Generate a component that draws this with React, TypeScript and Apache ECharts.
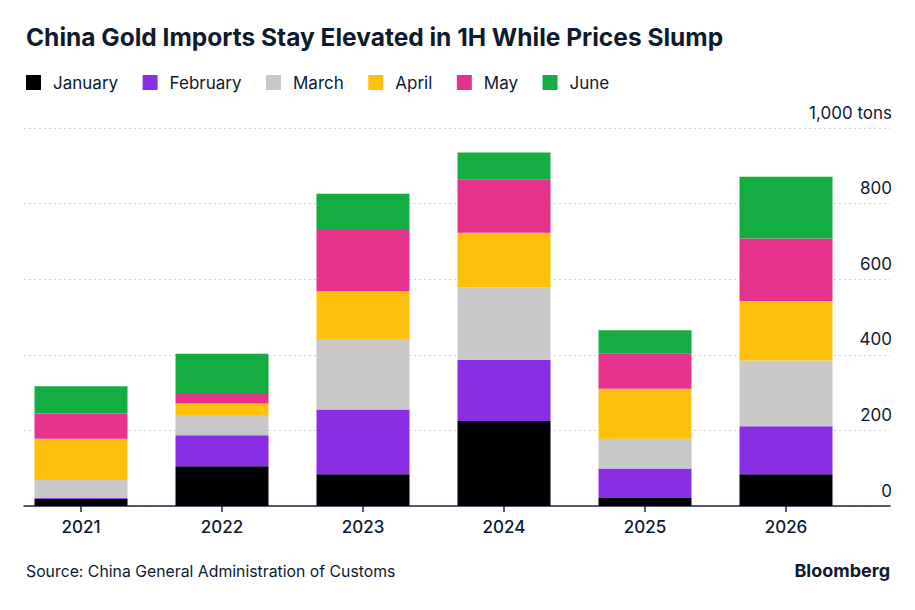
import { useEffect, useRef } from 'react'
import * as echarts from 'echarts'

// ── Data (thousand-ton stacked values) ───────────────────────────────────────

const years = ['2021', '2022', '2023', '2024', '2025', '2026']
const months = ['January', 'February', 'March', 'April', 'May', 'June']

const january = [19, 105, 84, 225, 21, 84]
const february = [2, 82, 171, 162, 78, 127]
const march = [48, 54, 187, 191, 79, 174]
const april = [109, 30, 126, 145, 132, 157]
const may = [67, 25, 165, 140, 93, 166]
const june = [72, 107, 93, 72, 62, 163]

const yTicks = [0, 200, 400, 600, 800, 1000]

const colors = ['#000000', '#8a2ee6', '#c8c8c8', '#fdc10d', '#e5338b', '#13ad42']

const INK = '#0e1a2e'
const FONT = 'Inter, "Noto Sans", sans-serif'

export default function App() {
  const ref = useRef<HTMLDivElement>(null)

  useEffect(() => {
    document.body.style.margin = '0'
    if (!ref.current) return
    const chart = echarts.init(ref.current, null, { renderer: 'svg' })

    const values = [january, february, march, april, may, june]

    chart.setOption({
      animation: false,
      backgroundColor: '#ffffff',
      textStyle: { fontFamily: FONT, color: INK },
      title: [
        {
          text: 'China Gold Imports Stay Elevated in 1H While Prices Slump',
          left: 26,
          top: 24,
          padding: 0,
          textStyle: { fontFamily: FONT, fontSize: 24.5, fontWeight: 'bold', color: INK },
        },
        {
          text: 'Source: China General Administration of Customs',
          left: 26,
          top: 563,
          padding: 0,
          textStyle: { fontFamily: FONT, fontSize: 15.8, fontWeight: 'normal', color: INK },
        },
        {
          text: 'Bloomberg',
          right: 25,
          top: 561,
          padding: 0,
          textStyle: { fontFamily: FONT, fontSize: 18, fontWeight: 'bold', color: INK },
        },
      ],
      legend: {
        left: 26,
        top: 74,
        padding: 0,
        itemWidth: 15,
        itemHeight: 15,
        itemGap: 24.5,
        icon: 'rect',
        data: months,
        textStyle: { fontFamily: FONT, fontSize: 17, color: INK, padding: [0, 0, 0, 7] },
      },
      grid: [
        { left: 24, right: 25, top: 128, bottom: 104 },
        { left: 10.5, right: 58.5, top: 128, bottom: 104 },
      ],
      xAxis: [
        {
          type: 'value',
          gridIndex: 0,
          min: 0,
          max: 1,
          axisLine: { show: true, lineStyle: { color: '#1b2440', width: 1.5 } },
          axisTick: { show: false },
          axisLabel: { show: false },
          splitLine: { show: false },
        },
        {
          type: 'category',
          gridIndex: 1,
          data: years,
          axisLine: { show: false },
          axisTick: {
            show: true,
            alignWithLabel: true,
            length: 6,
            lineStyle: { color: '#1b2440', width: 1.5 },
          },
          axisLabel: { fontFamily: FONT, fontSize: 17, fontWeight: 500, color: INK, margin: 12 },
        },
      ],
      yAxis: [
        {
          type: 'value',
          gridIndex: 0,
          position: 'right',
          min: yTicks[0],
          max: yTicks[yTicks.length - 1],
          interval: 200,
          axisLine: { show: false },
          axisTick: { show: false },
          axisLabel: {
            inside: true,
            margin: -2,
            verticalAlign: 'bottom',
            padding: [0, 0, 7, 0],
            fontFamily: FONT,
            fontSize: 17,
            color: INK,
            formatter: (v: number) => (v === 1000 ? '1,000 tons' : String(v)),
          },
          splitLine: {
            show: true,
            lineStyle: { color: '#d4d4d4', type: [2, 3], width: 1 },
          },
        },
        {
          type: 'value',
          gridIndex: 1,
          min: yTicks[0],
          max: yTicks[yTicks.length - 1],
          interval: 200,
          show: false,
        },
      ],
      series: months.map((m, i) => ({
        name: m,
        type: 'bar',
        stack: 'total',
        xAxisIndex: 1,
        yAxisIndex: 1,
        barWidth: 93,
        itemStyle: { color: colors[i] },
        data: values[i],
      })),
    })

    return () => chart.dispose()
  }, [])

  return <div ref={ref} style={{ width: 915, height: 610 }} />
}
